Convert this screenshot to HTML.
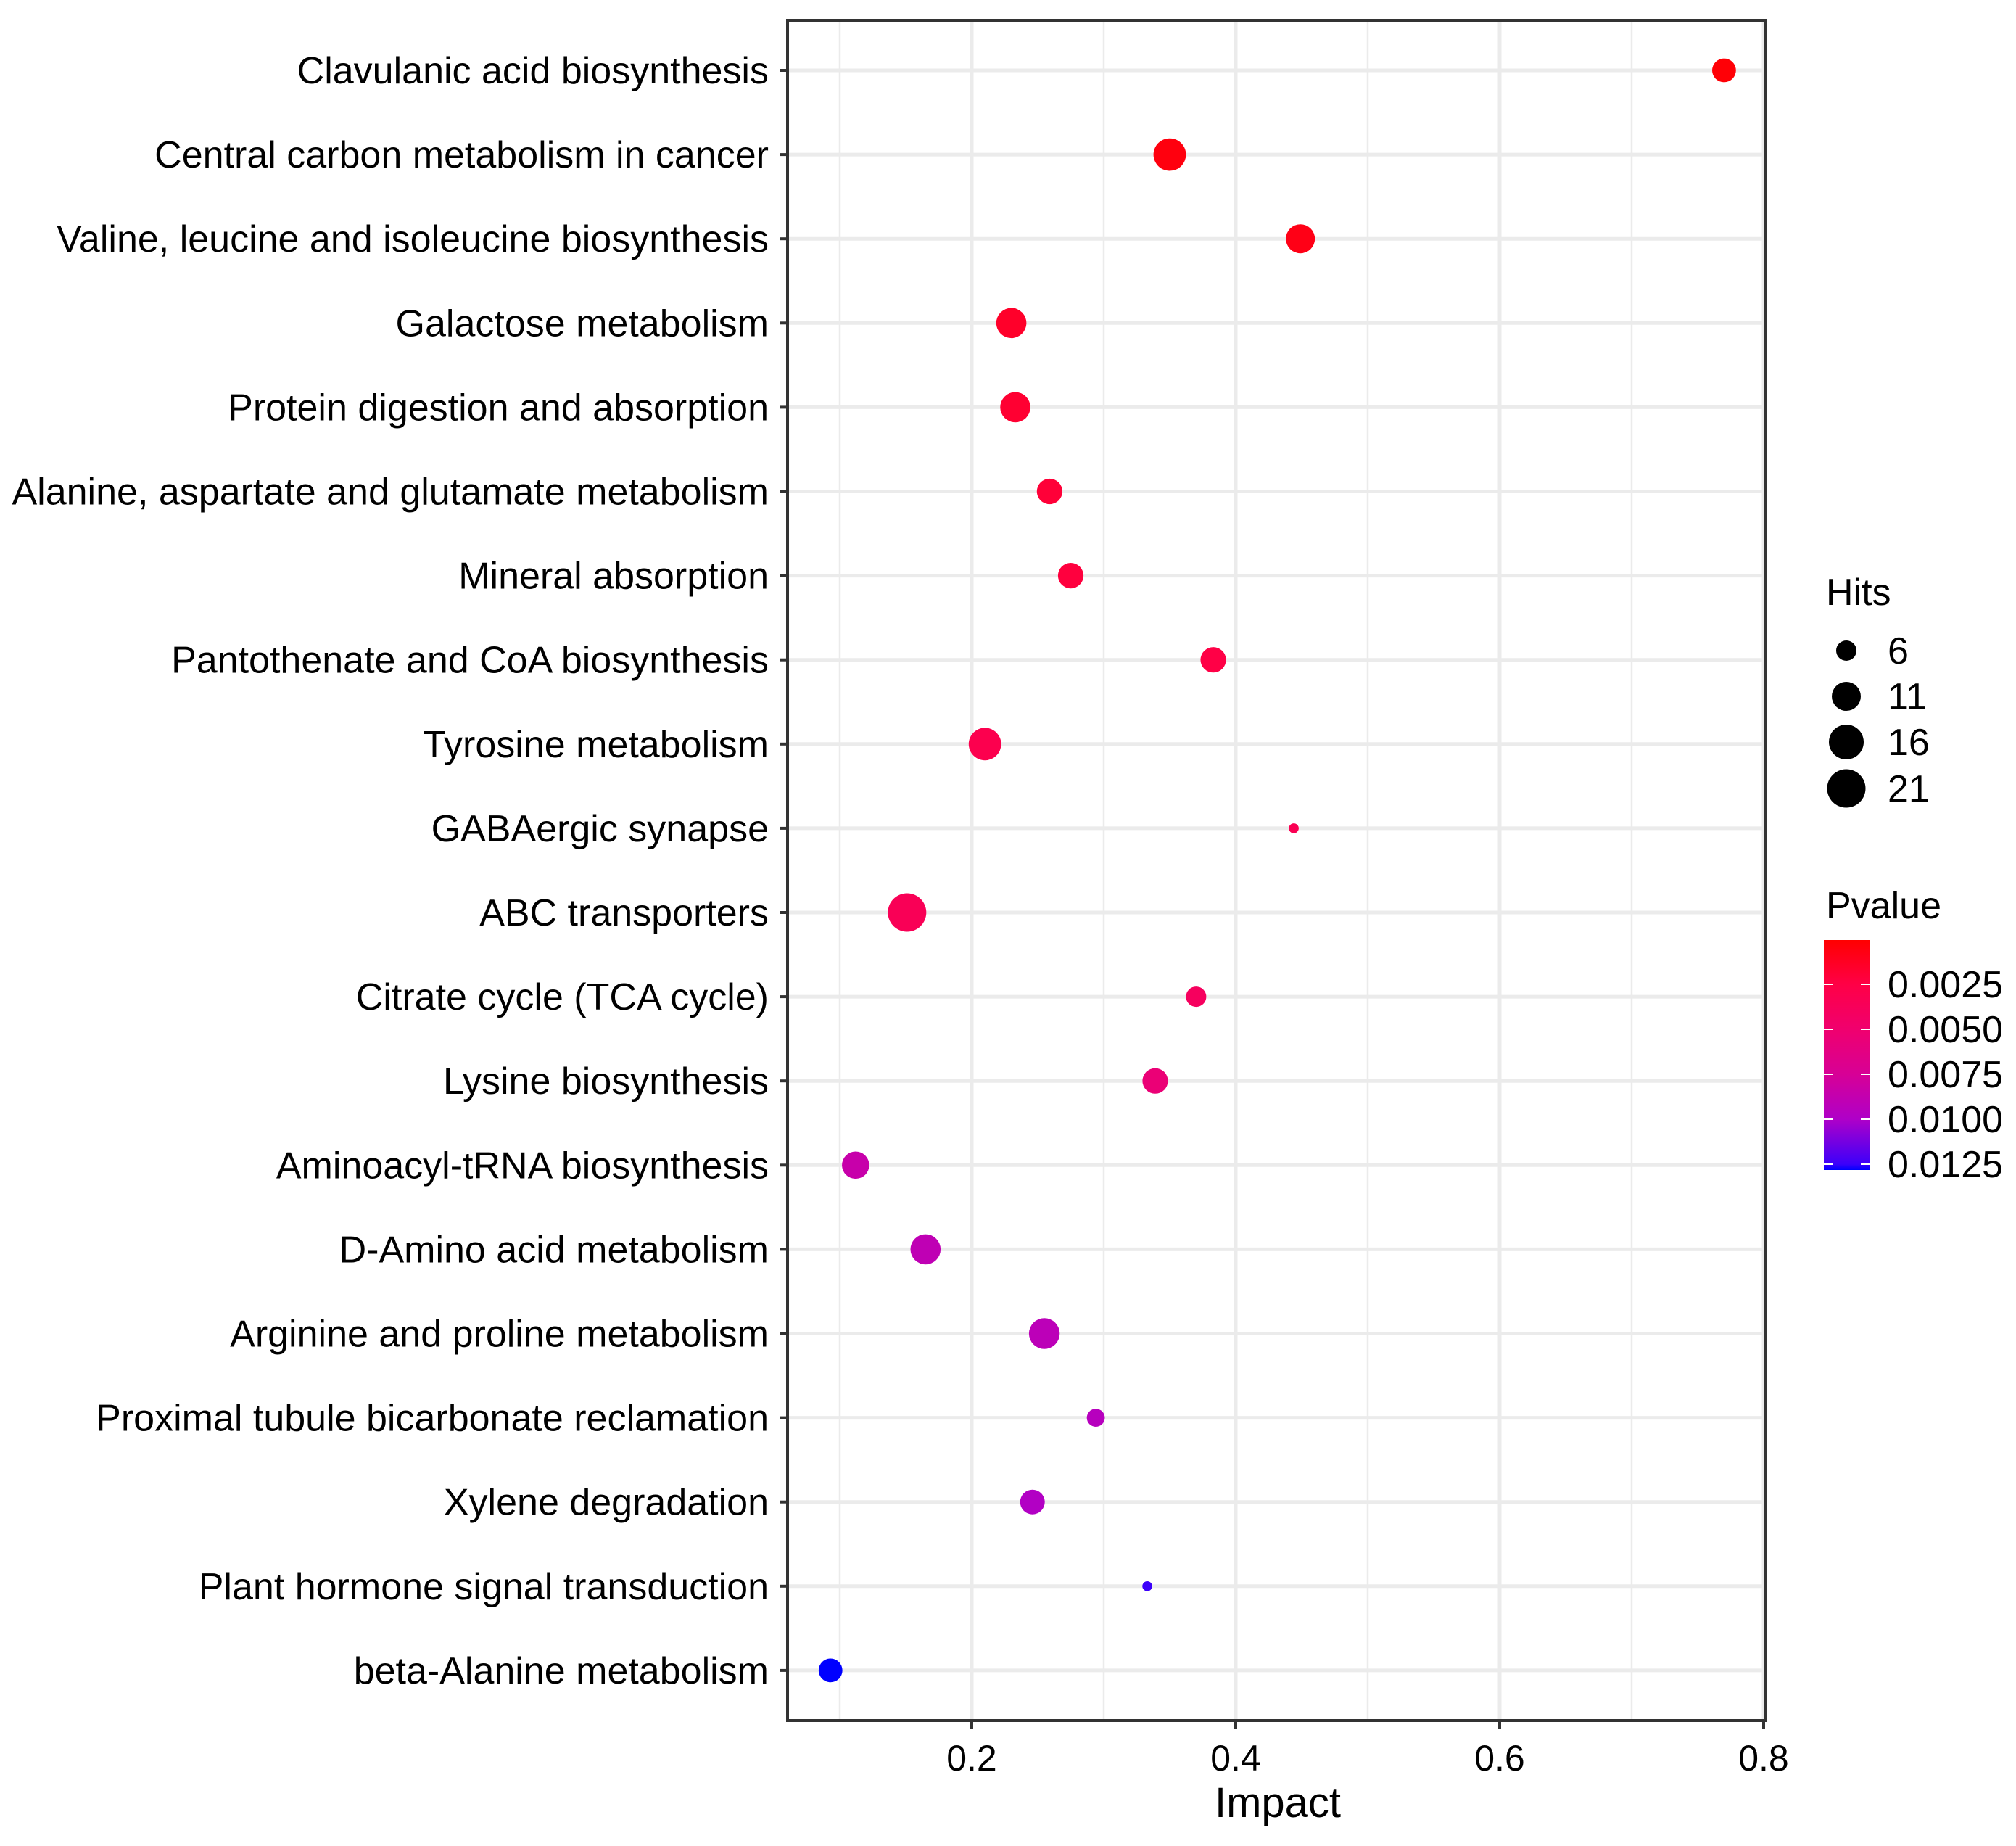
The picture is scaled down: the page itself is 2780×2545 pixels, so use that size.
<!DOCTYPE html>
<html><head><meta charset="utf-8">
<style>html,body{margin:0;padding:0;background:#fff}svg{display:block}text{font-family:"Liberation Sans",Arial,sans-serif;fill:#000}</style>
</head><body>
<svg id="chart" width="2780" height="2545" viewBox="0 0 2780 2545" xmlns="http://www.w3.org/2000/svg"></svg>
<script>
const categories = ["Clavulanic acid biosynthesis","Central carbon metabolism in cancer","Valine, leucine and isoleucine biosynthesis","Galactose metabolism","Protein digestion and absorption","Alanine, aspartate and glutamate metabolism","Mineral absorption","Pantothenate and CoA biosynthesis","Tyrosine metabolism","GABAergic synapse","ABC transporters","Citrate cycle (TCA cycle)","Lysine biosynthesis","Aminoacyl-tRNA biosynthesis","D-Amino acid metabolism","Arginine and proline metabolism","Proximal tubule bicarbonate reclamation","Xylene degradation","Plant hormone signal transduction","beta-Alanine metabolism"];
const impact = [0.770,0.350,0.449,0.230,0.233,0.259,0.275,0.383,0.210,0.444,0.151,0.370,0.339,0.112,0.165,0.255,0.294,0.246,0.333,0.093];
const hits = [8,14,11,12,12,9,9,9,14,1.5,21,6,9,10,12,12.5,5,8.5,1.5,8];
const pvalue = [0.0002,0.0005,0.0008,0.0015,0.0018,0.002,0.0022,0.0025,0.003,0.0033,0.0035,0.004,0.0055,0.0085,0.009,0.0092,0.0095,0.0098,0.0125,0.0128];
const xTicks = [0.2,0.4,0.6,0.8];
const xTickLabels = ["0.2","0.4","0.6","0.8"];
const xMinor = [0.1,0.3,0.5,0.7];
const hitsLegend = [6,11,16,21];
const pTicks = [0.0025,0.005,0.0075,0.01,0.0125];
const pTickLabels = ["0.0025","0.0050","0.0075","0.0100","0.0125"];

const NS="http://www.w3.org/2000/svg";
const svg=document.getElementById('chart');
function mk(tag,attrs,parent){const e=document.createElementNS(NS,tag);for(const k in attrs)e.setAttribute(k,attrs[k]);(parent||svg).appendChild(e);return e;}
const PL=1086,PR=2435,PT=28,PB=2372;
function xs(v){return 976+1820*v;}
function ys(i){return 97+i*116.1;}
const sizeTab=[[1,12],[6,28],[11,40],[16,48],[21,53]];
function diam(h){for(let i=0;i<sizeTab.length-1;i++){const a=sizeTab[i],b=sizeTab[i+1];if(h<=b[0]||i==sizeTab.length-2){return a[1]+(b[1]-a[1])*(h-a[0])/(b[0]-a[0]);}}}
const cStops=[[0,[255,0,0]],[0.0025,[255,0,70]],[0.005,[240,0,110]],[0.0075,[215,0,150]],[0.01,[175,0,200]],[0.0125,[60,0,250]],[0.0128,[0,0,255]]];
function col(p){for(let i=0;i<cStops.length-1;i++){const a=cStops[i],b=cStops[i+1];if(p<=b[0]||i==cStops.length-2){let t=(p-a[0])/(b[0]-a[0]);t=Math.max(0,Math.min(1,t));const c=a[1].map((v,j)=>Math.round(v+(b[1][j]-v)*t));return `rgb(${c[0]},${c[1]},${c[2]})`;}}}
function pY(p){return 1357+(p-0.0025)/0.0025*62;}

const grid=mk('g',{});


xMinor.forEach(v=>{const l=mk('line',{x1:xs(v),x2:xs(v),y1:PT,y2:PB,stroke:'#ebebeb','stroke-width':2.5},grid);});
xTicks.forEach(v=>{const l=mk('line',{x1:xs(v),x2:xs(v),y1:PT,y2:PB,stroke:'#ebebeb','stroke-width':5},grid);});
categories.forEach((c,i)=>{const l=mk('line',{x1:PL,x2:PR,y1:ys(i),y2:ys(i),stroke:'#ebebeb','stroke-width':5},grid);});

categories.forEach((c,i)=>{
  const t=mk('text',{x:1060,y:ys(i)+18,'text-anchor':'end','font-size':52});t.textContent=c;
  
  
  const tk=mk('line',{x1:1075,x2:PL,y1:ys(i),y2:ys(i),stroke:'#333','stroke-width':4});
  
  
});
xTicks.forEach((v,i)=>{
  const tk=mk('line',{x1:xs(v),x2:xs(v),y1:PB,y2:PB+12,stroke:'#333','stroke-width':4});
  
  
  const t=mk('text',{x:xs(v),y:2441,'text-anchor':'middle','font-size':50});t.textContent=xTickLabels[i];
  
  
});
categories.forEach((c,i)=>{
  const pt=mk('circle',{cx:xs(impact[i]),cy:ys(i),r:diam(hits[i])/2,fill:col(pvalue[i])});
  
  
});
const border=mk('rect',{x:PL,y:PT,width:PR-PL,height:PB-PT,fill:'none',stroke:'#333','stroke-width':4});


const xt=mk('text',{x:1762,y:2505,'text-anchor':'middle','font-size':58});xt.textContent='Impact';



const ht=mk('text',{x:2518,y:834,'font-size':52});ht.textContent='Hits';


const hy=[897,960,1023,1087];
hitsLegend.forEach((h,i)=>{
  const c=mk('circle',{cx:2546,cy:hy[i],r:diam(h)/2,fill:'#000'});
  
  
  const t=mk('text',{x:2603,y:hy[i]+18,'font-size':52});t.textContent=String(h);
  
  
});
const pt2=mk('text',{x:2518,y:1266,'font-size':52});pt2.textContent='Pvalue';


const defs=mk('defs',{});
const lg=mk('linearGradient',{id:'pg',x1:0,y1:0,x2:0,y2:1},defs);
const y0=1296,y1=1613;
cStops.forEach(s=>{const off=(pY(s[0])-y0)/(y1-y0);mk('stop',{offset:Math.max(0,Math.min(1,off)),'stop-color':`rgb(${s[1].join(',')})`},lg);});
const bar=mk('rect',{x:2515,y:y0,width:63,height:y1-y0,fill:'url(#pg)'});


pTicks.forEach((p,i)=>{
  const y=pY(p);
  const a=mk('line',{x1:2515,x2:2527,y1:y,y2:y,stroke:'#fff','stroke-width':2});
  
  
  const b=mk('line',{x1:2566,x2:2578,y1:y,y2:y,stroke:'#fff','stroke-width':2});
  
  
  const t=mk('text',{x:2603,y:y+18,'font-size':52});t.textContent=pTickLabels[i];
  
  
});
</script>
</body></html>
